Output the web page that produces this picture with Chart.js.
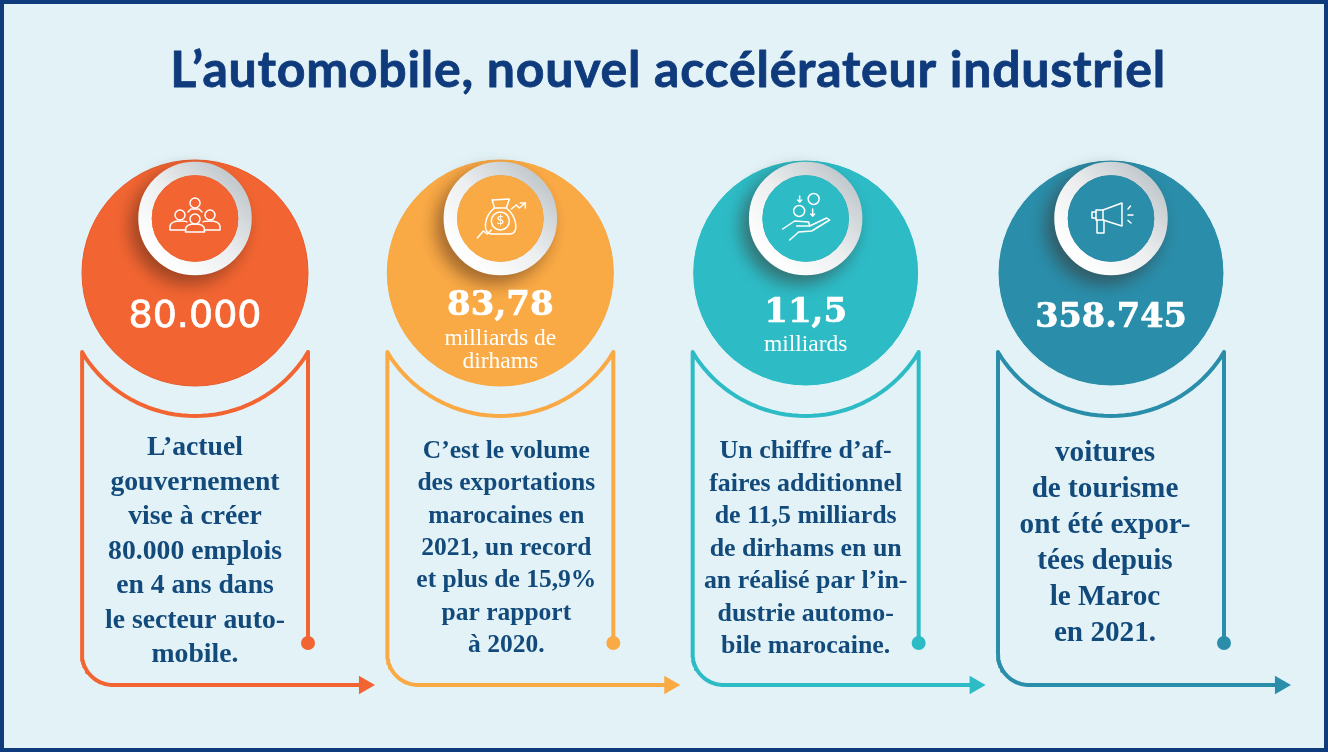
<!DOCTYPE html>
<html lang="fr">
<head>
<meta charset="utf-8">
<title>L’automobile, nouvel accélérateur industriel</title>
<script src="https://cdn.jsdelivr.net/npm/chart.js@4"></script>
<style>
    html, body { margin: 0; padding: 0; background: #e2f2f6; }
    canvas { display: block; }
</style>
</head>
<body>
<canvas id="autoChart" width="1328" height="752"></canvas>
<script>
const chartTitle = "L’automobile, nouvel accélérateur industriel";
const categories = ["Emplois", "Exportations", "Chiffre d’affaires", "Voitures"];
const headlineValues = ["80.000", "83,78", "11,5", "358.745"];
const headlineUnits = [[], ["milliards de", "dirhams"], ["milliards"], []];
const descriptions = [
    ["L’actuel", "gouvernement", "vise à créer", "80.000 emplois", "en 4 ans dans", "le secteur auto-", "mobile."],
    ["C’est le volume", "des exportations", "marocaines en", "2021, un record", "et plus de 15,9%", "par rapport", "à 2020."],
    ["Un chiffre d’af-", "faires additionnel", "de 11,5 milliards", "de dirhams en un", "an réalisé par l’in-", "dustrie automo-", "bile marocaine."],
    ["voitures", "de tourisme", "ont été expor-", "tées depuis", "le Maroc", "en 2021."]
];

const colors = ["#f26532", "#faaa45", "#2dbbc6", "#2a8da9"];
const discEdges = ["#ea5a28", "#f9a73f", "#e8f7f8", "#e8f7f8"];
const navy = "#0f3a7c";
const bodyBlue = "#134a7c";

// the x axis counts columns, the y axis counts canvas pixels
const columnWidth = 305.33;
const firstColumn = 195;
const px = (i, offset) => i + offset / columnWidth;

// headline and text placement per column
const headlineFonts = ["38px 'DejaVu Sans'", "bold 34px 'DejaVu Serif'", "bold 34px 'DejaVu Serif'", "bold 33.5px 'DejaVu Serif'"];
const headlineBase = [327, 315, 322, 327];
const unitBase = [[], [345, 368], [351], []];
const bodySize = [27.7, 25.5, 25.9, 29.2];
const bodyShift = [0, 6, 0, -6];
const bodyBase = [455, 458, 458, 461];
const bodyStep = [34.5, 32.3, 32.5, 36];

function connectorPath(i) {
    const pts = [{ x: px(i, 165), y: 685 }, { x: px(i, -82), y: 685 }];
    for (let a = 90; a <= 180; a += 3) {
        const r = a * Math.PI / 180;
        pts.push({ x: px(i, -82 + 31 * Math.cos(r)), y: 654 + 31 * Math.sin(r) });
    }
    pts.push({ x: px(i, -113), y: 352 });
    const start = Math.atan2(68, -113);
    const end = Math.atan2(68, 113);
    for (let k = 1; k < 40; k++) {
        const r = start + (end - start) * k / 40;
        pts.push({ x: px(i, 132 * Math.cos(r)), y: 284 + 132 * Math.sin(r) });
    }
    pts.push({ x: px(i, 113), y: 352 });
    pts.push({ x: px(i, 113), y: 643 });
    return pts;
}

function at(y, offset) {
    return categories.map((c, i) => ({ x: px(i, offset || 0), y: y }));
}

const connectorSets = categories.map((c, i) => ({
    type: "line",
    label: c,
    data: connectorPath(i),
    borderColor: colors[i],
    borderWidth: 4,
    borderJoinStyle: "round",
    pointRadius: 0,
    order: 6
}));

function ringGradient(ctx) {
    if (!ctx.raw) return "#dddddd";
    const x = firstColumn + ctx.raw.x * columnWidth;
    const y = ctx.raw.y;
    const g = ctx.chart.ctx.createLinearGradient(x - 38, y + 38, x + 38, y - 38);
    g.addColorStop(0, "#ffffff");
    g.addColorStop(0.5, "#eceeef");
    g.addColorStop(1, "#c4cbcf");
    return g;
}

const ringShadow = {
    id: "ringShadow",
    beforeDatasetDraw(chart, args) {
        if (chart.data.datasets[args.index].label !== "anneaux") return;
        const c = chart.ctx;
        c.save();
        c.shadowColor = "rgba(60,30,20,0.4)";
        c.shadowBlur = 18;
        c.shadowOffsetX = -7;
        c.shadowOffsetY = 8;
    },
    afterDatasetDraw(chart, args) {
        if (chart.data.datasets[args.index].label === "anneaux") chart.ctx.restore();
    }
};

function drawCircle(c, x, y, r) {
    c.beginPath();
    c.arc(x, y, r, 0, Math.PI * 2);
    c.stroke();
}

function drawLines(c, x, y, list) {
    c.beginPath();
    list.forEach((p, k) => {
        if (k === 0) c.moveTo(x + p[0], y + p[1]);
        else c.lineTo(x + p[0], y + p[1]);
    });
    c.stroke();
}

const iconDrawers = [
    function people(c, x, y) {
        drawCircle(c, x, y - 15, 5);
        drawLines(c, x, y, [[-7, -6], [-4, -9], [4, -9], [7, -6]]);
        drawCircle(c, x - 15, y - 3, 5);
        drawCircle(c, x + 15, y - 3, 5);
        [-1, 1].forEach(s => {
            c.beginPath();
            c.moveTo(x + s * 9, y + 12);
            c.lineTo(x + s * 25, y + 12);
            c.lineTo(x + s * 25, y + 8);
            c.quadraticCurveTo(x + s * 24, y + 3, x + s * 15, y + 3);
            c.quadraticCurveTo(x + s * 8, y + 3, x + s * 8, y + 4);
            c.stroke();
        });
        drawCircle(c, x, y + 1, 5);
        c.beginPath();
        c.moveTo(x - 9.5, y + 14);
        c.lineTo(x + 9.5, y + 14);
        c.lineTo(x + 9.5, y + 11);
        c.quadraticCurveTo(x + 9, y + 6, x, y + 6);
        c.quadraticCurveTo(x - 9, y + 6, x - 9.5, y + 11);
        c.closePath();
        c.stroke();
    },
    function moneyBag(c, x, y) {
        c.beginPath();
        c.moveTo(x - 6, y - 10);
        c.bezierCurveTo(x - 16, y - 2, x - 19, y + 16, x - 8, y + 16);
        c.lineTo(x + 9, y + 16);
        c.bezierCurveTo(x + 20, y + 16, x + 16, y - 2, x + 6, y - 10);
        c.closePath();
        c.stroke();
        drawLines(c, x, y, [[-8, -18], [9, -19], [6, -10]]);
        drawLines(c, x, y, [[-8, -18], [-6, -10]]);
        drawCircle(c, x, y + 3, 9);
        c.font = "13px 'DejaVu Sans'";
        c.textAlign = "center";
        c.textBaseline = "middle";
        c.fillText("$", x, y + 3);
        drawLines(c, x, y, [[-23, 20], [-17, 13], [-13, 16], [-9, 12]]);
        drawLines(c, x, y, [[11, -9], [16, -13], [19, -10], [25, -15]]);
        drawLines(c, x, y, [[20, -15], [25, -15], [25, -10]]);
    },
    function hand(c, x, y) {
        drawCircle(c, x + 8, y - 19, 5.5);
        drawCircle(c, x - 6.5, y - 7, 5.5);
        drawLines(c, x, y, [[-6, -22], [-6, -16]]);
        drawLines(c, x, y, [[-8, -18], [-6, -16], [-4, -18]]);
        drawLines(c, x, y, [[7, -9], [7, -2]]);
        drawLines(c, x, y, [[5, -4], [7, -2], [9, -4]]);
        drawLines(c, x, y, [[-23, 11], [-11, 3], [3, 4], [4, 8], [-9, 8]]);
        drawLines(c, x, y, [[4, 8], [21, 0], [24, 2], [6, 13], [-7, 14], [-16, 22]]);
    },
    function megaphone(c, x, y) {
        drawLines(c, x, y, [[-8, -8], [11, -15], [11, 8], [-8, 2], [-8, -8]]);
        drawLines(c, x, y, [[-8, -8], [-15, -8], [-15, 2], [-8, 2]]);
        drawLines(c, x, y, [[-15, -6], [-19, -6], [-19, 0], [-15, 0]]);
        drawLines(c, x, y, [[-14, 2], [-14, 15], [-7, 15], [-7, 2]]);
        drawLines(c, x, y, [[17, -9], [19.5, -12]]);
        drawLines(c, x, y, [[17, -3], [22, -3]]);
        drawLines(c, x, y, [[17, 2.5], [20, 5]]);
    }
];

const frameAndText = {
    id: "frameAndText",
    beforeDraw(chart) {
        const c = chart.ctx;
        c.save();
        c.fillStyle = "#e2f2f6";
        c.fillRect(0, 0, chart.width, chart.height);
        c.strokeStyle = navy;
        c.lineWidth = 4;
        c.strokeRect(2, 2, chart.width - 4, chart.height - 4);
        c.restore();
    },
    afterDatasetsDraw(chart) {
        const c = chart.ctx;
        const xs = chart.scales.x;
        const ys = chart.scales.y;
        c.save();
        c.textAlign = "center";
        c.textBaseline = "alphabetic";
        c.lineJoin = "round";

        c.fillStyle = navy;
        c.strokeStyle = navy;
        c.lineWidth = 0.8;
        c.font = "bold 50px Lato";
        c.letterSpacing = "0.75px";
        c.fillText(chartTitle, 668, ys.getPixelForValue(87));
        c.strokeText(chartTitle, 668, ys.getPixelForValue(87));
        c.letterSpacing = "0px";

        categories.forEach((name, i) => {
            const cx = xs.getPixelForValue(i);
            c.fillStyle = "#ffffff";
            c.strokeStyle = "#ffffff";
            c.lineWidth = 0.7;
            c.font = headlineFonts[i];
            c.fillText(headlineValues[i], cx, ys.getPixelForValue(headlineBase[i]));
            c.strokeText(headlineValues[i], cx, ys.getPixelForValue(headlineBase[i]));

            c.font = "23.5px 'Liberation Serif'";
            headlineUnits[i].forEach((line, k) => {
                c.fillText(line, cx, ys.getPixelForValue(unitBase[i][k]));
            });

            c.fillStyle = bodyBlue;
            c.font = "bold " + bodySize[i] + "px 'Liberation Serif'";
            descriptions[i].forEach((line, k) => {
                c.fillText(line, cx + bodyShift[i], ys.getPixelForValue(bodyBase[i] + k * bodyStep[i]));
            });

            c.save();
            c.strokeStyle = "#ffffff";
            c.fillStyle = "#ffffff";
            c.lineWidth = 1.5;
            c.lineCap = "round";
            iconDrawers[i](c, cx, ys.getPixelForValue(218));
            c.restore();
        });
        c.restore();
    }
};

window.autoChart = new Chart(document.getElementById("autoChart").getContext("2d"), {
    type: "scatter",
    data: {
        datasets: [
            ...connectorSets,
            {
                label: "disques",
                data: at(273),
                backgroundColor: colors,
                borderColor: discEdges,
                borderWidth: 1,
                pointRadius: 113,
                order: 5
            },
            {
                label: "anneaux",
                data: at(218.5),
                backgroundColor: colors,
                borderColor: ringGradient,
                borderWidth: 13.5,
                pointRadius: 50,
                order: 4
            },
            {
                label: "centres",
                data: at(218.5),
                backgroundColor: colors,
                borderWidth: 0,
                pointRadius: 43.25,
                order: 3
            },
            {
                label: "points",
                data: at(643, 113),
                backgroundColor: colors,
                borderWidth: 0,
                pointRadius: 7,
                order: 2
            },
            {
                label: "flèches",
                data: at(685, 169.3),
                backgroundColor: colors,
                borderWidth: 0,
                pointStyle: "triangle",
                rotation: 90,
                pointRadius: 10.7,
                order: 1
            }
        ]
    },
    options: {
        responsive: false,
        animation: false,
        events: [],
        layout: { padding: 0, autoPadding: false },
        plugins: {
            legend: { display: false },
            tooltip: { enabled: false },
            title: { display: false }
        },
        scales: {
            x: { type: "linear", display: false, min: px(0, -firstColumn), max: px(0, 1328 - firstColumn) },
            y: { type: "linear", display: false, min: 0, max: 752, reverse: true }
        }
    },
    plugins: [frameAndText, ringShadow]
});
</script>
</body>
</html>
